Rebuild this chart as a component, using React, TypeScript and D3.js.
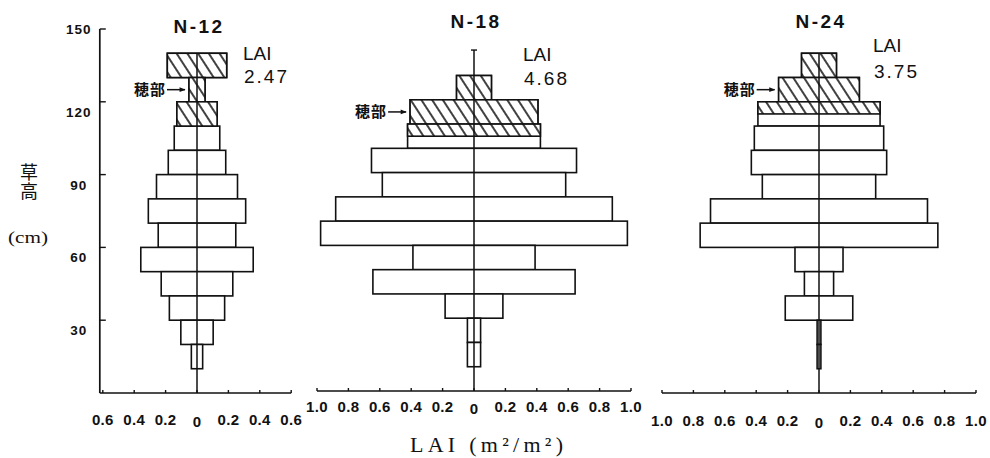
import React, { useEffect, useRef } from "react";
import * as d3 from "d3";

// plant height axis (cm)
const heightTicks = [30, 60, 90, 120, 150];
const layerDepth = 10;

// LAI axis ticks (per side of the centre line)
const ticksN12 = [-0.6, -0.4, -0.2, 0, 0.2, 0.4, 0.6];
const ticksWide = [-1.0, -0.8, -0.6, -0.4, -0.2, 0, 0.2, 0.4, 0.6, 0.8, 1.0];

// N-12: layer lower bound (cm), LAI per side, panicle share of the layer
const n12Layers = [130, 120, 110, 100, 90, 80, 70, 60, 50, 40, 30, 20, 10];
const n12Lai = [0.189, 0.051, 0.128, 0.145, 0.183, 0.258, 0.31, 0.247, 0.358, 0.228, 0.176, 0.103, 0.036];
const n12Ear = [1, 1, 1, 0, 0, 0, 0, 0, 0, 0, 0, 0, 0];

// N-18
const n18Layers = [120, 110, 100, 90, 80, 70, 60, 50, 40, 30, 20, 10];
const n18Lai = [0.111, 0.407, 0.423, 0.653, 0.584, 0.881, 0.977, 0.389, 0.644, 0.184, 0.042, 0.042];
const n18Ear = [1, 1, 0.5, 0, 0, 0, 0, 0, 0, 0, 0, 0];

// N-24
const n24Layers = [130, 120, 110, 100, 90, 80, 70, 60, 50, 40, 30, 20, 10];
const n24Lai = [0.111, 0.257, 0.389, 0.412, 0.431, 0.361, 0.691, 0.757, 0.153, 0.093, 0.215, 0.012, 0.012];
const n24Ear = [1, 1, 0.5, 0, 0, 0, 0, 0, 0, 0, 0, 0, 0];

const panelNames = ["N-12", "N-18", "N-24"];
const panelLai = ["2.47", "4.68", "3.75"];
const earArrowLayer = [120, 110, 120]; // layer the 穂部 arrow points at

const panels = [
  { title: panelNames[0], lai: panelLai[0], layers: n12Layers, values: n12Lai, ear: n12Ear, ticks: ticksN12, arrowAt: earArrowLayer[0] },
  { title: panelNames[1], lai: panelLai[1], layers: n18Layers, values: n18Lai, ear: n18Ear, ticks: ticksWide, arrowAt: earArrowLayer[1] },
  { title: panelNames[2], lai: panelLai[2], layers: n24Layers, values: n24Lai, ear: n24Ear, ticks: ticksWide, arrowAt: earArrowLayer[2] },
];

// page placement of each panel (scan is slightly tilted, so baselines differ)
const layout = [
  { cx: 197, base: 393, labelY: 425, titleY: 33, laiX: 243, laiY: 60, valY: 83, yAxis: true, cap: false },
  { cx: 474, base: 391, labelY: 412, titleY: 28, laiX: 523, laiY: 61, valY: 85, yAxis: false, cap: true },
  { cx: 819, base: 393, labelY: 426, titleY: 28, laiX: 873, laiY: 52, valY: 78, yAxis: false, cap: false },
];

const INK = "#111";
const SANS = "Liberation Sans, Arial, sans-serif";
const CJK = "Noto Sans CJK JP, sans-serif";
const SERIF = "Liberation Serif, DejaVu Serif, serif";

export default function App() {
  const ref = useRef<SVGSVGElement>(null);

  useEffect(() => {
    document.body.style.margin = "0";
    const svg = d3.select(ref.current);
    svg.selectAll("*").remove();

    const defs = svg.append("defs");
    const pat = defs
      .append("pattern")
      .attr("id", "hatch")
      .attr("patternUnits", "userSpaceOnUse")
      .attr("width", 9)
      .attr("height", 9)
      .attr("patternTransform", "rotate(-33)");
    pat.append("rect").attr("width", 9).attr("height", 9).attr("fill", "white");
    pat
      .append("line")
      .attr("x1", 2)
      .attr("y1", -1)
      .attr("x2", 2)
      .attr("y2", 10)
      .attr("stroke", INK)
      .attr("stroke-width", 1.6);

    defs
      .append("marker")
      .attr("id", "arrow")
      .attr("viewBox", "0 0 10 10")
      .attr("refX", 9)
      .attr("refY", 5)
      .attr("markerUnits", "userSpaceOnUse")
      .attr("markerWidth", 7)
      .attr("markerHeight", 6)
      .attr("orient", "auto")
      .append("path")
      .attr("d", "M0,1L10,5L0,9z")
      .attr("fill", INK);

    svg.append("rect").attr("width", 990).attr("height", 458).attr("fill", "white");

    panels.forEach((p, i) => {
      const L = layout[i];
      const x = d3.scaleLinear().domain([-1, 1]).range([L.cx - 157, L.cx + 157]);
      const y = d3.scaleLinear().domain([0, 150]).range([L.base, L.base - 364]);
      const g = svg.append("g").attr("class", "panel");
      const xMax = d3.max(p.ticks) as number;

      const rows = p.layers.map((h, j) => ({ h, v: p.values[j], ear: p.ear[j] }));

      // layers
      g.selectAll("rect.layer")
        .data(rows)
        .join("rect")
        .attr("class", "layer")
        .attr("x", (d) => x(-d.v))
        .attr("width", (d) => x(d.v) - x(-d.v))
        .attr("y", (d) => y(d.h + layerDepth))
        .attr("height", (d) => y(d.h) - y(d.h + layerDepth))
        .attr("fill", "white")
        .attr("stroke", INK)
        .attr("stroke-width", 1.6);

      // panicle (hatched) part
      g.selectAll("rect.ear")
        .data(rows.filter((d) => d.ear > 0))
        .join("rect")
        .attr("class", "ear")
        .attr("x", (d) => x(-d.v))
        .attr("width", (d) => x(d.v) - x(-d.v))
        .attr("y", (d) => y(d.h + layerDepth))
        .attr("height", (d) => (y(d.h) - y(d.h + layerDepth)) * d.ear)
        .attr("fill", "url(#hatch)")
        .attr("stroke", INK)
        .attr("stroke-width", 1.6);

      // centre stem
      const topCm = (d3.max(p.layers) as number) + layerDepth;
      const stemTop = L.cap ? y(140.5) : y(topCm);
      g.append("line")
        .attr("x1", x(0))
        .attr("x2", x(0))
        .attr("y1", stemTop)
        .attr("y2", L.base)
        .attr("stroke", INK)
        .attr("stroke-width", 1.5);
      if (L.cap) {
        g.append("line")
          .attr("x1", x(0) - 3)
          .attr("x2", x(0) + 3)
          .attr("y1", stemTop)
          .attr("y2", stemTop)
          .attr("stroke", INK)
          .attr("stroke-width", 1.4);
      }

      // LAI axis
      const axisLeft = L.yAxis ? x(-xMax) - 3 : x(-xMax);
      g.append("line")
        .attr("x1", axisLeft)
        .attr("x2", x(xMax))
        .attr("y1", L.base)
        .attr("y2", L.base)
        .attr("stroke", INK)
        .attr("stroke-width", 1.7);
      g.selectAll("line.xtick")
        .data(p.ticks)
        .join("line")
        .attr("class", "xtick")
        .attr("x1", (d) => x(d))
        .attr("x2", (d) => x(d))
        .attr("y1", L.base)
        .attr("y2", L.base - 3)
        .attr("stroke", INK)
        .attr("stroke-width", 1.4);
      g.selectAll("text.xlabel")
        .data(p.ticks)
        .join("text")
        .attr("class", "xlabel")
        .attr("x", (d) => x(d))
        .attr("y", (d) => (d === 0 ? L.labelY + 2 : L.labelY))
        .attr("text-anchor", "middle")
        .attr("font-family", SANS)
        .attr("font-weight", "bold")
        .attr("font-size", 15)
        .attr("letter-spacing", 0.3)
        .attr("fill", INK)
        .text((d) => (d === 0 ? "0" : d3.format(".1f")(Math.abs(d))));

      // height axis (first panel only)
      if (L.yAxis) {
        g.append("line")
          .attr("x1", axisLeft)
          .attr("x2", axisLeft)
          .attr("y1", y(150))
          .attr("y2", L.base)
          .attr("stroke", INK)
          .attr("stroke-width", 1.7);
        g.selectAll("line.ytick")
          .data(heightTicks)
          .join("line")
          .attr("class", "ytick")
          .attr("x1", axisLeft)
          .attr("x2", axisLeft + 6)
          .attr("y1", (d) => y(d))
          .attr("y2", (d) => y(d))
          .attr("stroke", INK)
          .attr("stroke-width", 1.4);
        g.selectAll("text.ylabel")
          .data(heightTicks)
          .join("text")
          .attr("class", "ylabel")
          .attr("x", axisLeft - 21)
          .attr("y", (d) => (d === 150 ? y(d) + 5 : y(d) + 15))
          .attr("text-anchor", "middle")
          .attr("font-family", SANS)
          .attr("font-weight", "bold")
          .attr("font-size", 13.5)
          .attr("letter-spacing", 1)
          .attr("fill", INK)
          .text((d) => d);
      }

      // title and LAI total
      g.append("text")
        .attr("x", x(0) + 2)
        .attr("y", L.titleY)
        .attr("text-anchor", "middle")
        .attr("font-family", SANS)
        .attr("font-weight", "bold")
        .attr("font-size", 19)
        .attr("letter-spacing", 2.5)
        .attr("fill", INK)
        .text(p.title);
      g.append("text")
        .attr("x", L.laiX)
        .attr("y", L.laiY)
        .attr("font-family", SANS)
        .attr("font-size", 19)
        .attr("fill", INK)
        .text("LAI");
      g.append("text")
        .attr("x", L.laiX + 1)
        .attr("y", L.valY)
        .attr("font-family", SANS)
        .attr("font-size", 19)
        .attr("letter-spacing", 2)
        .attr("fill", INK)
        .text(p.lai);

      // 穂部 arrow
      const j = p.layers.indexOf(p.arrowAt);
      const tipX = x(-p.values[j]) - 4;
      const tipY = y(p.arrowAt + layerDepth / 2);
      g.append("line")
        .attr("x1", tipX - 18)
        .attr("x2", tipX)
        .attr("y1", tipY)
        .attr("y2", tipY)
        .attr("stroke", INK)
        .attr("stroke-width", 1.5)
        .attr("marker-end", "url(#arrow)");
      g.append("text")
        .attr("x", tipX - 19)
        .attr("y", tipY + 5)
        .attr("text-anchor", "end")
        .attr("font-family", CJK)
        .attr("font-weight", "bold")
        .attr("font-size", 15)
        .attr("letter-spacing", 1)
        .attr("fill", INK)
        .text("穂部");
    });

    // axis titles
    svg
      .append("text")
      .attr("x", 29)
      .attr("y", 163)
      .attr("font-family", CJK)
      .attr("font-size", 18)
      .attr("letter-spacing", 1)
      .attr("fill", INK)
      .style("writing-mode", "vertical-rl")
      .text("草高");
    svg
      .append("text")
      .attr("x", 28)
      .attr("y", 243)
      .attr("text-anchor", "middle")
      .attr("font-family", SERIF)
      .attr("font-size", 17)
      .attr("fill", INK)
      .attr("textLength", 40)
      .attr("lengthAdjust", "spacingAndGlyphs")
      .text("(cm)");
    svg
      .append("text")
      .attr("x", 410)
      .attr("y", 452)
      .attr("font-family", SERIF)
      .attr("font-size", 22)
      .attr("fill", INK)
      .attr("textLength", 153)
      .attr("lengthAdjust", "spacing")
      .text("LAI (m²/m²)");
  }, []);

  return <svg ref={ref} width={990} height={458} style={{ display: "block" }} />;
}
